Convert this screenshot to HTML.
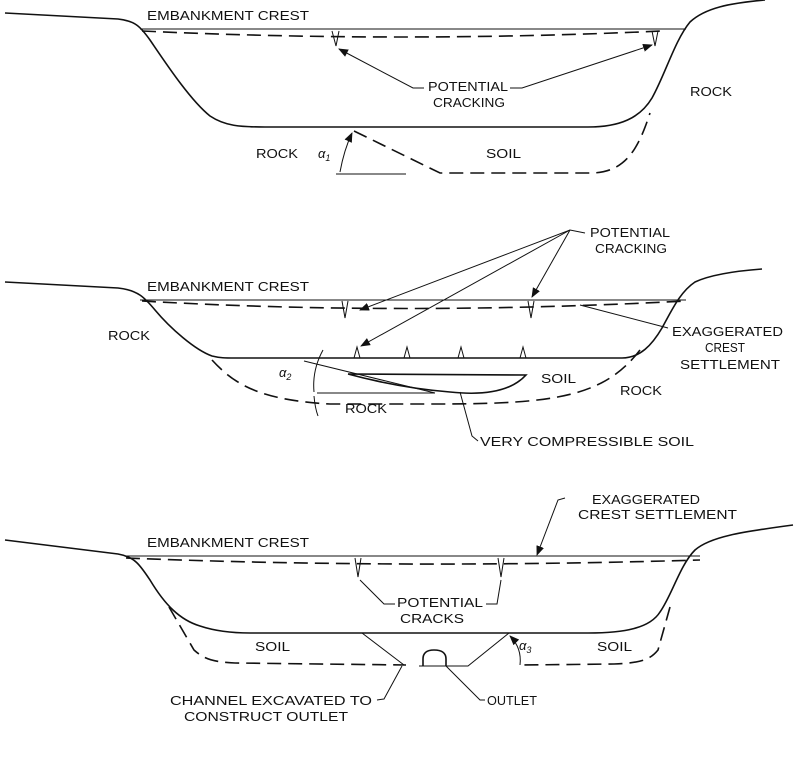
<!DOCTYPE html>
<html><head><meta charset="utf-8"><style>
html,body{margin:0;padding:0;background:#fff;}
svg{display:block;}
text{font-family:"Liberation Sans",Arial,sans-serif;font-size:13px;fill:#111;}
.s{fill:none;stroke:#111;stroke-width:1.6;}
.t{fill:none;stroke:#111;stroke-width:1;}
.d{fill:none;stroke:#111;stroke-width:1.6;stroke-dasharray:14 7;}
</style></head><body>
<svg width="798" height="768" viewBox="0 0 798 768" xmlns="http://www.w3.org/2000/svg">
<defs><marker id="a" markerWidth="10" markerHeight="8" refX="9" refY="4" orient="auto" markerUnits="userSpaceOnUse"><path d="M0,0 L10,4 L0,8 z" fill="#111"/></marker></defs>

<!-- Panel 1 -->
<path class="s" d="M5,13 L118,19 C135,21 140,26 150,40 C165,62 190,100 210,116 C225,126 240,127 265,127 L588,127 C620,127 640,118 652,98 C665,75 675,40 690,22 C705,8 730,3 765,0"/>
<line class="t" x1="140" y1="29" x2="686" y2="29"/>
<path class="d" d="M142,31 Q400,43 662,31"/>
<path class="t" d="M332,31 L336,46 L339,31 M652,31 L655,46 L658,31"/>
<text x="147" y="20" textLength="162" lengthAdjust="spacingAndGlyphs">EMBANKMENT CREST</text>
<text x="428" y="91" textLength="80" lengthAdjust="spacingAndGlyphs">POTENTIAL</text>
<text x="433" y="107" textLength="72" lengthAdjust="spacingAndGlyphs">CRACKING</text>
<path class="t" d="M424,88 L413,88 L339,49" marker-end="url(#a)"/>
<path class="t" d="M510,88 L522,88 L652,45" marker-end="url(#a)"/>
<text x="690" y="96" textLength="42" lengthAdjust="spacingAndGlyphs">ROCK</text>
<text x="256" y="158" textLength="42" lengthAdjust="spacingAndGlyphs">ROCK</text>
<text x="318" y="158" font-style="italic">α<tspan font-size="9" dy="3">1</tspan></text>
<text x="486" y="158" textLength="35" lengthAdjust="spacingAndGlyphs">SOIL</text>
<path class="d" d="M354,131 L440,173 L590,173 C625,173 638,150 650,113"/>
<line class="t" x1="336" y1="174" x2="406" y2="174"/>
<path class="t" d="M340,172 Q344,150 352,133" marker-end="url(#a)"/>

<!-- Panel 2 -->
<path class="s" d="M5,282 L118,288 C138,290 145,298 155,310 C170,328 195,350 212,356 C220,358 225,358 235,358 L622,358 C640,358 652,345 662,328 C672,310 680,292 695,282 C710,275 735,271 762,269"/>
<line class="t" x1="140" y1="300" x2="686" y2="300"/>
<path class="d" d="M142,301 Q400,316 686,301"/>
<path class="t" d="M342,301 L345,318 L348,301 M528,301 L531,318 L534,301"/>
<path class="t" d="M354,358 L357,347 L360,358 M404,358 L407,347 L410,358 M458,358 L461,347 L464,358 M520,358 L523,347 L526,358"/>
<text x="147" y="291" textLength="162" lengthAdjust="spacingAndGlyphs">EMBANKMENT CREST</text>
<text x="590" y="237" textLength="80" lengthAdjust="spacingAndGlyphs">POTENTIAL</text>
<text x="595" y="253" textLength="72" lengthAdjust="spacingAndGlyphs">CRACKING</text>
<path class="t" d="M585,233 L570,230 L360,310" marker-end="url(#a)"/>
<path class="t" d="M570,230 L361,346" marker-end="url(#a)"/>
<path class="t" d="M570,230 L532,297" marker-end="url(#a)"/>
<path class="t" d="M580,305 L668,328"/>
<text x="672" y="336" textLength="111" lengthAdjust="spacingAndGlyphs">EXAGGERATED</text>
<text x="705" y="352" textLength="40" lengthAdjust="spacingAndGlyphs">CREST</text>
<text x="680" y="369" textLength="100" lengthAdjust="spacingAndGlyphs">SETTLEMENT</text>
<text x="108" y="340" textLength="42" lengthAdjust="spacingAndGlyphs">ROCK</text>
<text x="620" y="395" textLength="42" lengthAdjust="spacingAndGlyphs">ROCK</text>
<text x="541" y="383" textLength="35" lengthAdjust="spacingAndGlyphs">SOIL</text>
<text x="345" y="413" textLength="42" lengthAdjust="spacingAndGlyphs">ROCK</text>
<text x="279" y="377" font-style="italic">α<tspan font-size="9" dy="3">2</tspan></text>
<path class="d" d="M212,360 C235,385 260,400 330,404 L440,404 C560,404 605,395 640,350"/>
<path class="t" d="M304,361 L435,393 M317,393 L435,393"/>
<path class="s" d="M348,374 L526,375 Q505,398 450,392 Q400,388 348,374"/>
<path class="t" d="M323,350 Q312,370 314,392 M314,396 Q315,408 318,416"/>
<path class="t" d="M460,392 L472,436 L478,441"/>
<text x="480" y="446" textLength="214" lengthAdjust="spacingAndGlyphs">VERY COMPRESSIBLE SOIL</text>

<!-- Panel 3 -->
<path class="s" d="M5,540 L118,554 C135,557 140,565 150,580 C165,605 180,620 200,626 C215,631 230,633 250,633 L588,633 C625,633 650,628 660,612 C672,595 680,565 695,550 C710,537 740,532 793,525"/>
<line class="t" x1="125" y1="556" x2="700" y2="556"/>
<path class="d" d="M126,558 Q400,569 700,560"/>
<path class="t" d="M355,558 L358,577 L361,558 M498,558 L501,577 L504,558"/>
<text x="147" y="547" textLength="162" lengthAdjust="spacingAndGlyphs">EMBANKMENT CREST</text>
<text x="592" y="504" textLength="108" lengthAdjust="spacingAndGlyphs">EXAGGERATED</text>
<text x="578" y="519" textLength="159" lengthAdjust="spacingAndGlyphs">CREST SETTLEMENT</text>
<path class="t" d="M565,498 L558,500 L537,555" marker-end="url(#a)"/>
<text x="397" y="607" textLength="86" lengthAdjust="spacingAndGlyphs">POTENTIAL</text>
<text x="400" y="623" textLength="64" lengthAdjust="spacingAndGlyphs">CRACKS</text>
<path class="t" d="M395,604 L384,604 L360,580 M486,604 L497,604 L501,580"/>
<path class="d" d="M169,607 L194,650 C205,660 215,662 235,663 L406,665"/>
<path class="d" d="M670,607 L658,650 C650,660 640,663 614,664 L522,665"/>
<path class="t" d="M362,633 L404,665 M509,633 L468,666 L419,666"/>
<path class="s" d="M423,666 L423,659 Q423,650 434,650 Q446,650 446,659 L446,666"/>
<path class="t" d="M520,665 Q522,648 510,636" marker-end="url(#a)"/>
<text x="519" y="650" font-style="italic">α<tspan font-size="9" dy="3">3</tspan></text>
<text x="255" y="651" textLength="35" lengthAdjust="spacingAndGlyphs">SOIL</text>
<text x="597" y="651" textLength="35" lengthAdjust="spacingAndGlyphs">SOIL</text>
<path class="t" d="M446,666 L480,700 L485,700"/>
<text x="487" y="705" textLength="50" lengthAdjust="spacingAndGlyphs">OUTLET</text>
<path class="t" d="M377,700 L384,699 L402,666"/>
<text x="170" y="705" textLength="202" lengthAdjust="spacingAndGlyphs">CHANNEL EXCAVATED TO</text>
<text x="184" y="721" textLength="164" lengthAdjust="spacingAndGlyphs">CONSTRUCT OUTLET</text>
</svg>
</body></html>
